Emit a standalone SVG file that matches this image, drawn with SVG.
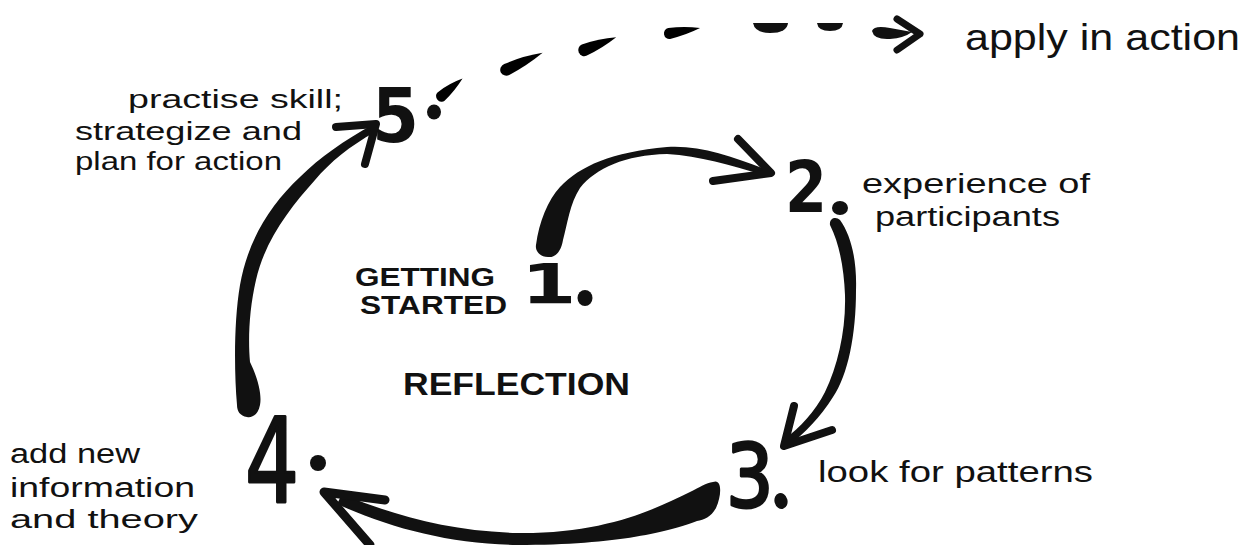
<svg xmlns="http://www.w3.org/2000/svg" width="1255" height="545" viewBox="0 0 1255 545">
  <style>
    .hand { font-family: "Liberation Sans", "DejaVu Sans", sans-serif; fill: #111; }
    .caps { font-family: "Liberation Sans", "DejaVu Sans", sans-serif; font-weight: bold; fill: #111; }
    .num { font-family: "DejaVu Sans", "Liberation Sans", sans-serif; fill: #111; stroke: #111; stroke-width: 3; stroke-linejoin: round; }
    .numb { font-family: "DejaVu Sans", "Liberation Sans", sans-serif; font-weight: bold; fill: #111; }
    .stroke { fill: none; stroke: #111; stroke-linecap: round; stroke-linejoin: round; }
    .ink { fill: #111; }
  </style>
  <defs>
    <path id="drop" d="M -3,-5.5 Q 14,-5 30,0 Q 14,4.5 -3,5.5 A 5.5,5.5 0 0 1 -3,-5.5 Z"/>
  </defs>
  <rect width="1255" height="545" fill="#fff"/>

  <g id="connectors">
    <!-- 1 -> 2 -->
    <g id="arrow-1-2">
      <path class="ink" d="M 536,245 C 539,222 548,200 560,187 C 580,166 612,152 667,147 C 700,145 730,156 765,169 L 763,175 C 730,165 700,156 667,154 C 625,155 596,168 580,188 C 570,203 567,225 563,240 C 561,252 555,258 548,257 C 540,257 535,251 536,245 Z"/>
      <path class="stroke" stroke-width="8" d="M 738,139 L 771,173 L 713,181"/>
    </g>
    <!-- 2 -> 3 -->
    <g id="arrow-2-3">
      <path class="ink" d="M 830,225 C 829,218 836,216 840,220 C 851,235 857,260 856,290 C 856,335 848,375 833,397 C 820,418 805,432 790,445 L 785,439 C 800,427 815,412 825,392 C 838,365 846,330 845,295 C 844,270 840,245 830,225 Z"/>
      <path class="stroke" stroke-width="8" d="M 794,406 L 784,446 L 832,430"/>
    </g>
    <!-- 3 -> 4 -->
    <g id="arrow-3-4">
      <path class="ink" d="M 713,482 C 722,478 722,495 716,508 C 711,517 704,520 697,521 C 670,531 620,545 517,545 C 450,544 390,528 337,504 L 342,494 C 395,516 450,531 517,533 C 600,534 650,512 690,492 C 700,487 706,483 713,482 Z"/>
      <path class="stroke" stroke-width="9" d="M 385,500 L 324,492 L 370,545"/>
    </g>
    <!-- 4 -> 5 -->
    <g id="arrow-4-5">
      <path class="ink" d="M 237,405 C 234,370 234,320 240,285 C 248,240 270,205 300,177 C 320,157 345,140 372,125 L 375,132 C 350,146 330,162 315,180 C 290,208 265,240 256,280 C 249,310 248,340 250,362 C 258,378 262,395 260,405 C 258,415 252,418 247,417 C 240,416 237,411 237,405 Z"/>
      <path class="stroke" stroke-width="8" d="M 336,127 L 376,124 L 365,164"/>
    </g>
    <!-- 5 -> apply (dashed) -->
    <g id="arrow-5-apply">
      <use href="#drop" transform="translate(443,95) rotate(-40) scale(0.85,1)"/>
      <use href="#drop" transform="translate(510,68) rotate(-25) scale(1.2,1.1)"/>
      <use href="#drop" transform="translate(587,49) rotate(-22) scale(1.05,1.1)"/>
      <use href="#drop" transform="translate(672,33) rotate(-10) scale(0.95,1)"/>
      <path class="ink" d="M 753,23 L 788,23 Q 787,33 770,33 Q 755,33 753,23 Z"/>
      <path class="ink" d="M 817,23 L 843,23 Q 842,31 830,31 Q 818,31 817,23 Z"/>
      <path class="ink" d="M 872,31 Q 874,25 890,28 L 912,32 Q 904,38 890,39 Q 874,40 872,31 Z"/>
      <path class="stroke" stroke-width="7" d="M 897,19 L 920,34 L 897,50"/>
    </g>
  </g>

  <g id="node-1">
    <text class="numb" font-size="55" transform="translate(521,303) scale(1.45,1)">1</text>
    <ellipse class="ink" cx="585" cy="298" rx="7.5" ry="8"/>
    <text class="caps" x="355" y="286" font-size="25" textLength="140" lengthAdjust="spacingAndGlyphs">GETTING</text>
    <text class="caps" x="360" y="314" font-size="25" textLength="147" lengthAdjust="spacingAndGlyphs">STARTED</text>
  </g>

  <g id="node-2">
    <text class="numb" font-size="71" transform="translate(785,212) scale(0.85,1)">2</text>
    <ellipse class="ink" cx="840" cy="208" rx="8" ry="7"/>
    <text class="hand" x="862" y="193" font-size="27" textLength="228" lengthAdjust="spacingAndGlyphs">experience of</text>
    <text class="hand" x="875" y="226" font-size="27" textLength="185" lengthAdjust="spacingAndGlyphs">participants</text>
  </g>

  <g id="node-3">
    <text class="num" font-size="88" transform="translate(726,507) scale(0.85,1)">3</text>
    <ellipse class="ink" cx="781" cy="501" rx="6.5" ry="8" transform="rotate(-15 781 501)"/>
    <text class="hand" x="818" y="482" font-size="29" textLength="275" lengthAdjust="spacingAndGlyphs">look for patterns</text>
  </g>

  <g id="node-4">
    <text class="num" font-size="118" transform="translate(245,502) scale(0.72,1)">4</text>
    <ellipse class="ink" cx="318" cy="463" rx="8" ry="8"/>
    <text class="hand" x="10" y="463" font-size="27" textLength="130" lengthAdjust="spacingAndGlyphs">add new</text>
    <text class="hand" x="10" y="497" font-size="27" textLength="185" lengthAdjust="spacingAndGlyphs">information</text>
    <text class="hand" x="10" y="528" font-size="26" textLength="188" lengthAdjust="spacingAndGlyphs">and theory</text>
  </g>

  <g id="node-5">
    <text class="numb" font-size="75" transform="translate(372,142) scale(0.9,1)">5</text>
    <ellipse class="ink" cx="434" cy="112" rx="7" ry="7.5"/>
    <text class="hand" x="128" y="108" font-size="26" textLength="215" lengthAdjust="spacingAndGlyphs">practise skill;</text>
    <text class="hand" x="75" y="140" font-size="26" textLength="227" lengthAdjust="spacingAndGlyphs">strategize and</text>
    <text class="hand" x="75" y="170" font-size="26" textLength="207" lengthAdjust="spacingAndGlyphs">plan for action</text>
  </g>

  <g id="apply">
    <text class="hand" x="965" y="50" font-size="37" textLength="275" lengthAdjust="spacingAndGlyphs">apply in action</text>
  </g>

  <g id="reflection">
    <text class="caps" x="403" y="395" font-size="31" textLength="227" lengthAdjust="spacingAndGlyphs">REFLECTION</text>
  </g>
</svg>
